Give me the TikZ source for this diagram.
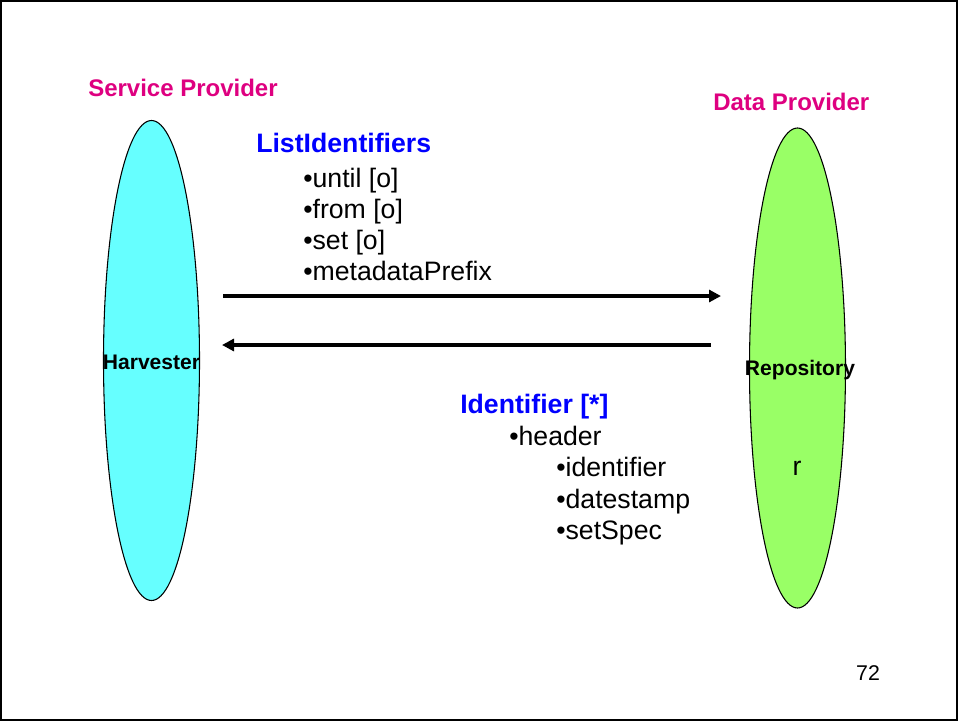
\documentclass[tikz,border=0pt]{standalone}
\usepackage{fontspec}
\setmainfont{Liberation Sans}
\usetikzlibrary{shapes.geometric,arrows.meta}
\definecolor{provpink}{RGB}{222,0,128}
\definecolor{msgblue}{RGB}{0,0,255}
\definecolor{spcyan}{RGB}{102,255,255}
\definecolor{dpgreen}{RGB}{153,255,102}
\begin{document}
\begin{tikzpicture}[x=0.75pt,y=-0.75pt,
  role/.style={anchor=base west,inner sep=0,text=provpink,font=\fontsize{18}{21}\selectfont\bfseries},
  verb/.style={anchor=base west,inner sep=0,text=msgblue,font=\fontsize{20}{24}\selectfont\bfseries},
  item/.style={anchor=base west,inner sep=0,font=\fontsize{20}{24}\selectfont},
  party/.style={ellipse,draw,line width=0.8pt,inner sep=0,minimum width=72pt,minimum height=360pt},
  plabel/.style={inner sep=0,font=\fontsize{15.8}{18}\selectfont\bfseries},
  flow/.style={line width=3pt,-{Triangle[length=9pt,width=9pt]}}]
\useasboundingbox (0,0) rectangle (958,722);
\draw[line width=1.5pt] (1,1) rectangle (956.5,720);
% parties
\node[party,fill=spcyan] (sp) at (151.5,360.5) {};
\node[party,fill=dpgreen] (dp) at (797.5,368) {};
\node[plabel] (harv) at (151.5,362) {Harvester};
\node[plabel] (repo) at (800,370) {Repository};
\node[item,anchor=center] (rr) at (797,468) {r};
% roles
\node[role] (sptitle) at (88,96) {Service Provider};
\node[role] (dptitle) at (713,110) {Data Provider};
% request
\node[verb] (req) at (256,152) {ListIdentifiers};
\node[item] (q1) at (303,187) {•until [o]};
\node[item] (q2) at (303,218) {•from [o]};
\node[item] (q3) at (303,249) {•set [o]};
\node[item] (q4) at (303,280) {•metadataPrefix};
% response
\node[verb] (resp) at (460,413) {Identifier [*]};
\node[item] (r1) at (509,445) {•header};
\node[item] (r2) at (556,476) {•identifier};
\node[item] (r3) at (556,508) {•datestamp};
\node[item] (r4) at (556,539) {•setSpec};
% arrows
\coordinate (a1s) at (223,296);
\coordinate (a1e) at (721,296);
\coordinate (a2s) at (711,345);
\coordinate (a2e) at (222,345);
\draw[flow] (a1s) -- (a1e);
\draw[flow] (a2s) -- (a2e);
% page number
\node[inner sep=0,font=\fontsize{16}{18}\selectfont] (pg) at (868,673) {72};
\end{tikzpicture}
\end{document}
